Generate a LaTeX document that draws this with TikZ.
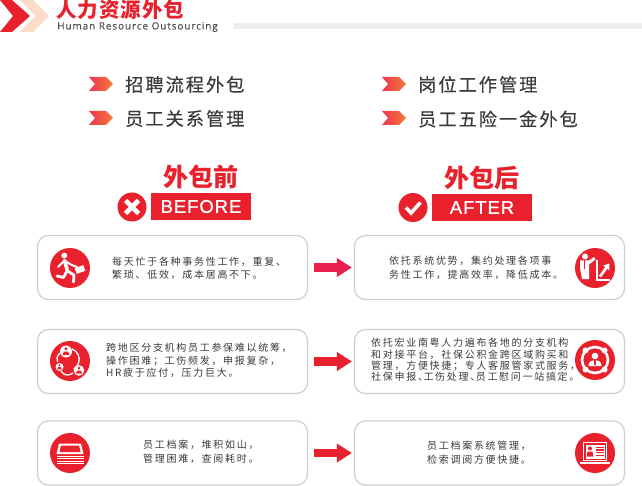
\documentclass[tikz,border=0pt]{standalone}
\usepackage{fontspec}
\usetikzlibrary{arrows.meta,calc}
\setmainfont{Liberation Sans}
\newfontfamily\cjkbody[LetterSpace=17]{Noto Sans CJK SC}
\newfontfamily\cjklist[LetterSpace=11,FakeBold=0.3]{Noto Sans CJK SC}
\newfontfamily\cjkhead{Noto Sans CJK SC}
\newfontfamily\cjktitle[LetterSpace=5]{Noto Sans CJK SC}
\newfontfamily\latinsub[LetterSpace=9,FakeBold=0.4]{Open Sans}
\newfontfamily\latintag[LetterSpace=5,FakeBold=1]{Liberation Sans}
\definecolor{brand}{HTML}{E8212D}
\definecolor{arrowpink}{HTML}{E8214F}
\definecolor{bodytxt}{HTML}{3A3A3A}
\definecolor{cardline}{HTML}{CFCFCF}
\definecolor{peach}{HTML}{FBDCCB}
\definecolor{F1}{HTML}{F0344F}
\definecolor{F2}{HTML}{F47B3A}
\tikzset{
  card/.style={draw=cardline,line width=1.2pt,fill=white,rounded corners=11pt,minimum width=270pt,minimum height=64pt,inner sep=0pt},
  body/.style={font=\cjkbody\fontsize{10}{#1}\selectfont,text=bodytxt,align=left,anchor=west,inner sep=0pt},
  listtxt/.style={font=\cjklist\fontsize{18.2}{20}\selectfont,text=bodytxt,anchor=west,inner sep=0pt},
  iconball/.style={circle,fill=brand,minimum size=40pt,inner sep=0pt},
  tagbox/.style={fill=brand,text=white,minimum width=100pt,minimum height=27pt,inner sep=0pt,font=\latintag\fontsize{18.5}{20}\selectfont},
  badge/.style={circle,fill=brand,minimum size=29pt,inner sep=0pt},
  headtxt/.style={font=\cjkhead\bfseries\fontsize{25}{26}\selectfont,text=brand,inner sep=0pt},
  flow/.style={line width=8.5pt,draw=#1,shorten <=6pt,shorten >=2pt,-{Triangle[length=15pt,width=18pt,fill=#1!85!magenta]}},
  flow/.default=brand,
  wl/.style={draw=white,line cap=round,line join=round,line width=#1},
}
\newcommand{\bulletchev}[2]{\path[left color=F1,right color=F2] (#1,#2) -- ++(17,0) -- ++(7,7) -- ++(-7,7) -- ++(-17,0) -- ++(6,-7) -- cycle;}
\begin{document}
\begin{tikzpicture}[x=1pt,y=-1pt]
\useasboundingbox (0,0) rectangle (642,486);
\fill[white] (0,0) rectangle (642,486);
% header
\fill[peach] (20,0) -- (33,0) -- (49,16) -- (33,32) -- (20,32) -- (35,16) -- cycle;
\fill[brand] (0,0) -- (12,0) -- (30,16) -- (12,32) -- (0,32) -- (13,16) -- cycle;
\node[anchor=west,inner sep=0pt,font=\cjktitle\bfseries\fontsize{20.5}{22}\selectfont,text=brand] (title) at (56,9.5) {人力资源外包};
\node[anchor=west,inner sep=0pt,font=\latinsub\fontsize{10}{12}\selectfont,text=black!68] (subtitle) at (57,27) {Human Resource Outsourcing};
\fill[black!7] (234,23) rectangle (642,29);
% list
\bulletchev{89}{77}
\bulletchev{89}{111}
\bulletchev{382}{77}
\bulletchev{382}{111}
\node[listtxt] (la) at (125,84.5) {招聘流程外包};
\node[listtxt] (lb) at (125,118.5) {员工关系管理};
\node[listtxt] (lc) at (418,84.5) {岗位工作管理};
\node[listtxt] (ld) at (418,119) {员工五险一金外包};
% heads
\node[headtxt] (hb) at (201,177) {外包前};
\node[headtxt] (ha) at (482,178) {外包后};
\node[tagbox] (tb) at (201,206.5) {BEFORE};
\node[tagbox] (ta) at (482,207.5) {AFTER};
\node[badge] (bb) at (132,207) {};
\node[badge] (ba) at (413,207.5) {};
\draw[white,line width=4.6pt] (125.5,200.5) -- (138.5,213.5) (125.5,213.5) -- (138.5,200.5);
\draw[white,line width=3.6pt] (406,207.5) -- (411,213) -- (420.5,202.5);
% cards
\node[card] (l1) at (172.5,267.5) {};
\node[card] (r1) at (489.5,267.5) {};
\node[card] (l2) at (172.5,361.5) {};
\node[card] (r2) at (489.5,361.5) {};
\node[card] (l3) at (172.5,453) {};
\node[card] (r3) at (489.5,453) {};
\draw[flow=arrowpink] (l1.east) -- (r1.west);
\draw[flow=brand] (l2.east) -- (r2.west);
\draw[flow=brand] (l3.east) -- (r3.west);
% text
\node[body=13] (t1) at (112,268) {每天忙于各种事务性工作，重复、\\繁琐、低效，成本居高不下。};
\node[body=14] (t2) at (389,268) {依托系统优势，集约处理各项事\\务性工作，提高效率，降低成本。};
\node[body=12.5] (t3) at (106,360.5) {跨地区分支机构员工参保难以统筹，\\操作困难；工伤频发，申报复杂，\\HR疲于应付，压力巨大。};
\node[body=11.4] (t4) at (371,360) {依托宏业南粤人力遍布各地的分支机构\\和对接平台，社保公积金跨区域购买和\\管理，方便快捷；专人客服管家式服务，\\社保申报、\hspace{-4.5pt}工伤处理、\hspace{-4.5pt}员工慰问一站搞定。};
\node[body=14] (t5) at (143,452) {员工档案，堆积如山，\\管理困难，查阅耗时。};
\node[body=13.5] (t6) at (427,452.5) {员工档案系统管理，\\检索调阅方便快捷。};
% icon balls
\node[iconball] (i1) at (70,268) {};
\node[iconball] (i2) at (595,268) {};
\node[iconball] (i3) at (70,361) {};
\node[iconball] (i4) at (595,360) {};
\node[iconball] (i5) at (70,453) {};
\node[iconball] (i6) at (595,453) {};
% runner
\begin{scope}[shift={(70,268)}]
\fill[white] (-5.7,-12.5) circle (2.9);
\draw[wl=3.6pt] (-5.5,-7.5) -- (-2.5,3);
\draw[wl=2.8pt] (-2.5,3) -- (4,7) -- (3.5,14);
\draw[wl=2.8pt] (-3,3) -- (-6.5,9.5) -- (-13,8);
\draw[wl=2pt] (-6,-7) -- (-12,-1);
\draw[wl=2pt] (-5,-7) -- (1.7,-3) -- (7,-1);
\fill[white,rotate around={20:(10,1.5)}] (5.5,-1.5) rectangle (14.5,4.5);
\end{scope}
% person + rising chart
\begin{scope}[shift={(595,268)}]
\fill[white] (-10,-11.5) circle (3);
\fill[white] (-15,-7.5) -- (-6,-7.5) -- (-1,-11) -- (0.5,-8.5) -- (-6,-3.5) -- (-6,11) -- (-13,11) -- (-15,0) -- cycle;
\fill[brand] (-10.6,-7.5) rectangle (-9.6,1);
\draw[white,line width=2pt,line cap=butt,line join=miter] (1.5,-8) -- (1.5,12) -- (15,12);
\draw[white,line width=2.6pt,-{Triangle[length=5.5pt,width=7.5pt]}] (5,8.5) -- (9,3) -- (14.5,-4.5);
\end{scope}
% network
\begin{scope}[shift={(70,361)}]
\draw[white,line width=1.3pt] (2,-12) arc (-70:60:11);
\draw[white,line width=1.3pt] (-9,10) .. controls (-6,15) and (-1,15) .. (3,12);
\draw[white,line width=1.3pt] (-10,-8) .. controls (-13,-5) and (-14,-2) .. (-12.5,1);
\foreach \cx/\cy/\r in {-4/-9.5/6,-10.5/6/4,9/9.5/5.3}{
  \fill[white] (\cx,\cy) circle (\r);
  \fill[brand] (\cx,\cy-0.45*\r) circle (0.28*\r);
  \fill[brand] (\cx-0.6*\r,\cy+0.6*\r) -- (\cx-0.35*\r,\cy) -- (\cx+0.35*\r,\cy) -- (\cx+0.6*\r,\cy+0.6*\r) -- cycle;
}
\end{scope}
% ring person
\begin{scope}[shift={(595,360)}]
\draw[white,line width=2.6pt] (0,0) circle (13);
\foreach \a in {45,135,225,315}{\fill[white] (\a:13.5) circle (3);}
\fill[white] (0,-4) circle (3.3);
\fill[white] (-6.5,6) .. controls (-6.5,1.5) and (-3.5,0.3) .. (0,0.3) .. controls (3.5,0.3) and (6.5,1.5) .. (6.5,6) -- cycle;
\fill[brand] (-0.7,0.3) rectangle (0.7,4.5);
\end{scope}
% books
\begin{scope}[shift={(70,453)}]
\fill[white] (-11,-9.5) -- (11,-9.5) -- (13.5,1) -- (-13.5,1) -- cycle;
\fill[brand] (-9,-7.5) -- (9,-7.5) -- (10.5,-1) -- (-10.5,-1) -- cycle;
\foreach \yy in {2.5,5,7.5,10}{\fill[white] (-13.5,\yy) rectangle (13.5,\yy+1.2);}
\end{scope}
% laptop profile
\begin{scope}[shift={(595,453)}]
\fill[white] (-12,-11) rectangle (12,8);
\fill[brand] (-10.8,-9.8) rectangle (10.8,6.8);
\fill[white] (-9.5,-8.5) rectangle (9.5,5.5);
\fill[brand] (-5,-4.5) circle (2);
\fill[brand] (-8.5,3.5) -- (-7.5,-1.5) -- (-2.5,-1.5) -- (-1.5,3.5) -- cycle;
\foreach \yy in {-6.5,-3.8,-1.1,1.6}{\fill[brand] (0.5,\yy) rectangle (8.5,\yy+1.5);}
\fill[white] (-15,9.3) rectangle (15,10.8);
\end{scope}
\end{tikzpicture}
\end{document}
